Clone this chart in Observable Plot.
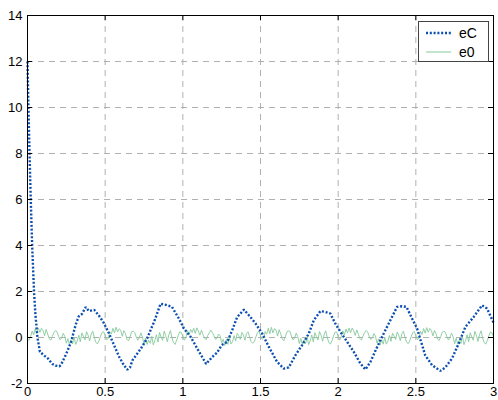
<!DOCTYPE html>
<html><head><meta charset="utf-8">
<script src="https://cdn.jsdelivr.net/npm/d3@7"></script>
<script src="https://cdn.jsdelivr.net/npm/@observablehq/plot@0.6"></script>
<style>
body{margin:0;background:#fff;font-family:"Liberation Sans",Arial,Helvetica,sans-serif;}
#wrap{position:relative;width:498px;height:400px;overflow:hidden;}
#legend{position:absolute;left:418px;top:21px;width:69px;height:39px;border:1px solid #444;background:#fff;font-size:14px;color:#000;}
.item{position:absolute;left:0;width:69px;height:18px;}
.item svg{position:absolute;left:7px;top:0;}
.item span{position:absolute;left:40px;top:1px;line-height:16px;}
</style></head>
<body><div id="wrap"><div id="legend"></div></div>
<script>
const xTicks = [0, 0.5, 1, 1.5, 2, 2.5, 3];
const xTickLabels = ["0", "0.5", "1", "1.5", "2", "2.5", "3"];
const yTicks = [-2, 0, 2, 4, 6, 8, 10, 12, 14];
const yTickLabels = ["-2", "0", "2", "4", "6", "8", "10", "12", "14"];
const seriesNames = ["eC", "e0"];
const seriesColors = ["#0b4fb0", "#86c99c"];

const eC_t = [0,0.006,0.013,0.021,0.03,0.042,0.051,0.064,0.08,0.11,0.13,0.16,0.18,0.205,0.215,0.25,0.28,0.31,0.33,0.35,0.375,0.395,0.43,0.46,0.49,0.525,0.557,0.59,0.62,0.643,0.66,0.675,0.73,0.77,0.815,0.857,0.9,0.93,0.975,1.007,1.05,1.093,1.15,1.19,1.22,1.25,1.286,1.318,1.35,1.393,1.425,1.468,1.511,1.554,1.607,1.65,1.682,1.725,1.768,1.811,1.843,1.886,1.918,1.95,1.982,2.015,2.058,2.1,2.143,2.176,2.208,2.251,2.293,2.336,2.379,2.411,2.44,2.476,2.508,2.53,2.56,2.604,2.658,2.69,2.733,2.776,2.819,2.872,2.926,2.958,2.99,3.0];
const eC_v = [12,10,8,6,4,2,1,0,-0.62,-0.8,-0.9,-1.15,-1.22,-1.25,-1.2,-0.7,-0.2,0.55,0.92,1.02,1.32,1.15,1.2,0.95,0.65,0.17,-0.33,-0.84,-1.2,-1.4,-1.3,-1.0,-0.48,-0.04,0.68,1.47,1.4,1.33,0.82,0.39,0.03,-0.48,-1.15,-0.84,-0.66,-0.33,-0.19,0.32,0.89,1.21,0.97,0.61,0.17,-0.41,-1.06,-1.35,-1.3,-0.77,-0.33,0.17,0.75,1.15,1.11,1.04,0.6,0.24,-0.19,-0.62,-1.13,-1.39,-1.06,-0.41,0.17,0.75,1.33,1.36,1.33,0.82,0.39,-0.1,-0.77,-1.2,-1.45,-1.3,-0.91,-0.26,0.46,0.89,1.4,1.26,0.8,0.65];

const e0_v = [
-0.08,-0.12,0.05,0.28,0.12,0.38,0.18,0.42,0.22,0.40,
0.30,0.08,0.35,0.15,-0.05,-0.12,0.05,0.22,0.30,0.25,
0.05,-0.10,-0.02,0.18,0.05,-0.25,-0.05,-0.32,-0.10,-0.28,
0.02,-0.30,-0.15,0.10,-0.18,0.20,0.05,-0.10,0.25,0.10,
-0.15,0.15,0.28,0.00,-0.20,-0.28,-0.15,0.05,0.22,0.25,
0.10,-0.10,-0.05,0.25,0.15,0.40,0.20,0.45,0.25,0.38,
0.32,0.05,0.30,0.18,-0.08,-0.15,0.02,0.25,0.28,0.22,
0.02,-0.12,0.00,0.20,0.02,-0.28,-0.02,-0.30,-0.12,-0.25,
0.05,-0.32,-0.12,0.12,-0.20,0.22,0.02,-0.12,0.28,0.08,
-0.18,0.12,0.30,-0.02,-0.22,-0.30,-0.12,0.08,0.25,0.22,
0.05,-0.12,0.02,0.30,0.10,0.35,0.22,0.40,0.18,0.42,
0.28,0.10,0.32,0.12,-0.02,-0.10,0.08,0.20,0.32,0.22,
0.08,-0.08,-0.04,0.15,0.08,-0.22,-0.08,-0.35,-0.08,-0.30,
0.00,-0.28,-0.18,0.08,-0.15,0.18,0.08,-0.08,0.22,0.12,
-0.12,0.18,0.25,0.02,-0.18,-0.25,-0.18,0.02,0.20,0.28,
0.08,-0.08,-0.02,0.26,0.14,0.40,0.16,0.44,0.20,0.38,
0.33,0.06,0.34,0.16,-0.06,-0.14,0.04,0.24,0.29,0.26,
0.04,-0.11,-0.01,0.19,0.04,-0.26,-0.04,-0.31,-0.11,-0.27,
0.03,-0.31,-0.14,0.11,-0.19,0.21,0.04,-0.11,0.26,0.09,
-0.16,0.14,0.29,-0.01,-0.21,-0.29,-0.14,0.06,0.23,0.24,
0.06,-0.11,0.03,0.29,0.11,0.37,0.20,0.41,0.21,0.41,
0.29,0.09,0.33,0.14,-0.04,-0.11,0.06,0.21,0.31,0.24,
0.06,-0.09,-0.03,0.17,0.06,-0.24,-0.06,-0.33,-0.09,-0.29,
0.01,-0.29,-0.16,0.09,-0.17,0.19,0.06,-0.09,0.24,0.11,
-0.14,0.16,0.27,0.01,-0.19,-0.27,-0.16,0.04,0.21,0.26,
0.09,-0.09,-0.03,0.27,0.13,0.39,0.19,0.43,0.23,0.39,
0.31,0.07,0.31,0.17,-0.07,-0.13,0.03,0.23,0.27,0.23,
0.03,-0.11,0.01,0.19,0.03,-0.27,-0.03,-0.29,-0.13,-0.26,
0.04,-0.31,-0.13,0.12,-0.19,0.21,0.03,-0.12,0.27,0.09,
-0.17,0.13,0.29,-0.03,-0.21,-0.29,-0.13,0.07,0.24,0.21,
0.05];
const e0_dt = 0.01;

const eC = eC_t.map((t, i) => ({t, v: eC_v[i]}));
const e0 = e0_v.map((v, i) => ({t: i * e0_dt, v}));

const W = 498, H = 400, mT = 15, mB = 17, mL = 27, mR = 5;
const innerH = H - mT - mB, innerW = W - mL - mR;

const chart = Plot.plot({
  width: W, height: H,
  marginTop: mT, marginBottom: mB, marginLeft: mL, marginRight: mR,
  x: {domain: [0, 3], label: null},
  y: {domain: [-2, 14], label: null},
  style: {fontFamily: '"Liberation Sans", Arial, sans-serif', fontSize: "13px", color: "#000", background: "#fff"},
  marks: [
    Plot.ruleX(xTicks.slice(1, -1), {stroke: "#a8a8a8", strokeWidth: 0.9, strokeDasharray: "6,5"}),
    Plot.ruleY(yTicks.slice(1, -1), {stroke: "#a8a8a8", strokeWidth: 0.9, strokeDasharray: "6,5"}),
    Plot.line(e0, {x: "t", y: "v", stroke: seriesColors[1], strokeWidth: 0.9}),
    Plot.line(eC, {x: "t", y: "v", stroke: seriesColors[0], strokeWidth: 2.4, strokeDasharray: "2,1.8", strokeLinecap: "butt", strokeLinejoin: "miter"}),
    Plot.tickX(xTicks, {x: d => d, insetTop: innerH - 5, stroke: "#000"}),
    Plot.tickX(xTicks, {x: d => d, insetBottom: innerH - 5, stroke: "#000"}),
    Plot.tickY(yTicks, {y: d => d, insetRight: innerW - 5, stroke: "#000"}),
    Plot.tickY(yTicks, {y: d => d, insetLeft: innerW - 5, stroke: "#000"}),
    Plot.frame({stroke: "#000", strokeWidth: 1}),
    Plot.axisX(xTicks, {tickSize: 0, tickPadding: 3, label: null, tickFormat: d => xTickLabels[xTicks.indexOf(d)]}),
    Plot.axisY(yTicks, {tickSize: 0, tickPadding: 5, label: null, tickFormat: d => yTickLabels[yTicks.indexOf(d)]})
  ]
});
document.getElementById("wrap").prepend(chart);

const legend = document.getElementById("legend");
seriesNames.forEach((name, i) => {
  const row = document.createElement("div");
  row.className = "item";
  row.style.top = (2 + i * 18.5) + "px";
  const dash = i === 0 ? 'stroke-dasharray="2,1.8" stroke-width="2.4"' : 'stroke-width="1"';
  row.innerHTML = `<svg width="26" height="18"><line x1="0" x2="25" y1="9" y2="9" stroke="${seriesColors[i]}" ${dash}/></svg><span>${name}</span>`;
  legend.appendChild(row);
});
</script></body></html>
